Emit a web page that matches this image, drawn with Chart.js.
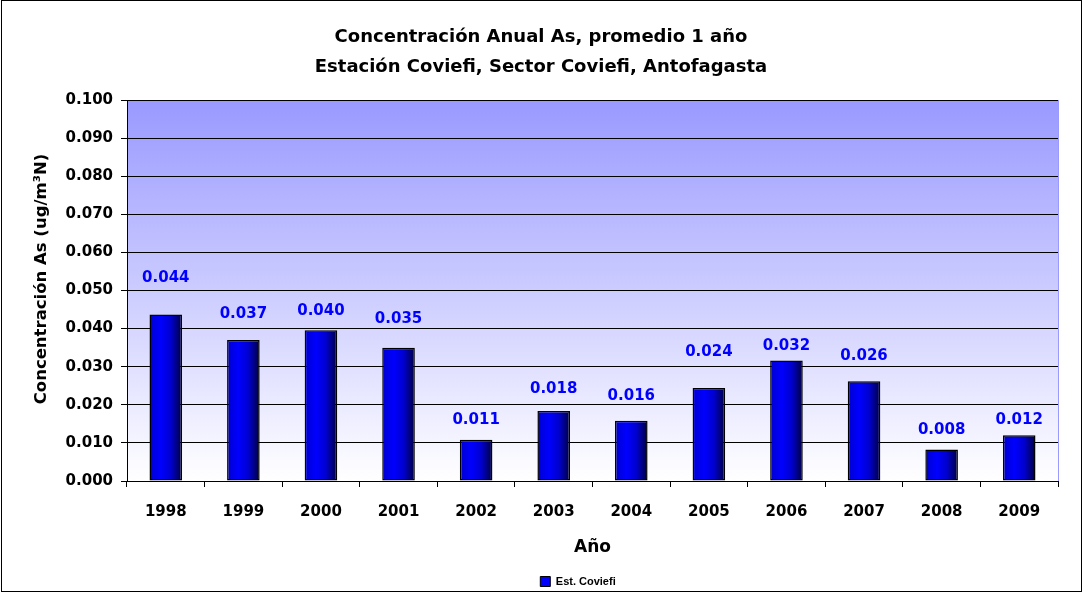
<!DOCTYPE html>
<html>
<head>
<meta charset="utf-8">
<script src="https://cdn.jsdelivr.net/npm/chart.js@4/dist/chart.umd.min.js"></script>
<style>
  body { margin: 0; background: #fff; }
  #wrap { width: 1082px; height: 592px; }
</style>
</head>
<body>
<div id="wrap"><canvas id="asChart" width="1082" height="592"></canvas></div>
<script>
// Data
const years = ["1998", "1999", "2000", "2001", "2002", "2003", "2004", "2005", "2006", "2007", "2008", "2009"];
const concentration = [0.0437, 0.0370, 0.0396, 0.0350, 0.0108, 0.0184, 0.0158, 0.0244, 0.0316, 0.0262, 0.0083, 0.0120];
// where each value label sits (centre, in axis units) - they were hand placed in the original
const labelAnchor = [0.0532, 0.0439, 0.0447, 0.0426, 0.0160, 0.0242, 0.0224, 0.0337, 0.0355, 0.0329, 0.0134, 0.0161];
const yTicks = [0, 0.01, 0.02, 0.03, 0.04, 0.05, 0.06, 0.07, 0.08, 0.09, 0.1];

const SANS = "'Liberation Sans', Arial, sans-serif";
const WIDE = "'DejaVu Sans', Verdana, sans-serif";
const BAR_PCT = 0.42;

// plot area gradient + outer frame
const backgroundPlugin = {
  id: "plotBackground",
  afterLayout(chart) {
    // title is centred on the whole canvas, legend sits a bit right of centre
    if (chart.titleBlock) {
      chart.titleBlock.left = 0;
      chart.titleBlock.right = chart.width;
    }
    if (chart.legend) {
      chart.legend.left += 49;
      chart.legend.right += 49;
      chart.legend.top += 5;
      chart.legend.bottom += 5;
    }
  },
  beforeDraw(chart) {
    const { ctx, chartArea: a } = chart;
    ctx.save();
    ctx.fillStyle = "#fff";
    ctx.fillRect(0, 0, chart.width, chart.height);
    const g = ctx.createLinearGradient(0, a.top, 0, a.bottom);
    g.addColorStop(0, "#9999ff");
    g.addColorStop(1, "#ffffff");
    ctx.fillStyle = g;
    ctx.fillRect(a.left, a.top, a.right - a.left, a.bottom - a.top);
    ctx.restore();
  },
  afterDraw(chart) {
    const { ctx, chartArea: a } = chart;
    ctx.save();
    ctx.strokeStyle = "#9999ff";
    ctx.lineWidth = 1;
    ctx.beginPath();
    ctx.moveTo(a.right + 0.5, a.top);
    ctx.lineTo(a.right + 0.5, a.bottom);
    ctx.stroke();
    ctx.strokeStyle = "#000";
    ctx.strokeRect(1.5, 0.5, chart.width - 2, chart.height - 1);
    ctx.restore();
  },
};

// value labels above bars
const valueLabels = {
  id: "valueLabels",
  afterDatasetsDraw(chart) {
    const { ctx } = chart;
    const meta = chart.getDatasetMeta(0);
    const y = chart.scales.y;
    ctx.save();
    ctx.font = "bold 15px " + WIDE;
    ctx.fillStyle = "#0000ff";
    ctx.textAlign = "center";
    ctx.textBaseline = "middle";
    meta.data.forEach((bar, i) => {
      ctx.fillText(concentration[i].toFixed(3), bar.x, y.getPixelForValue(labelAnchor[i]));
    });
    ctx.restore();
  },
};

function barFill(context) {
  const chart = context.chart;
  const a = chart.chartArea;
  if (!a) return "#0000ff";
  const x = chart.scales.x.getPixelForValue(context.dataIndex);
  const half = ((a.right - a.left) / years.length) * BAR_PCT / 2;
  const g = chart.ctx.createLinearGradient(x - half, 0, x + half, 0);
  g.addColorStop(0, "#0000d0");
  g.addColorStop(0.35, "#0000ff");
  g.addColorStop(0.65, "#0000d0");
  g.addColorStop(1, "#000040");
  return g;
}

const ctx = document.getElementById("asChart").getContext("2d");
const asChart = new Chart(ctx, {
  type: "bar",
  data: {
    labels: years,
    datasets: [
      {
        label: "Est. Coviefi",
        data: concentration,
        backgroundColor: barFill,
        borderColor: "#000000",
        borderWidth: 1.5,
        borderSkipped: false,
        barPercentage: BAR_PCT,
        categoryPercentage: 1,
      },
    ],
  },
  options: {
    responsive: false,
    animation: false,
    layout: { padding: { left: 0, right: 24, top: 0, bottom: 0 } },
    plugins: {
      title: {
        display: true,
        text: ["Concentración Anual As, promedio 1 año", "Estación Coviefi, Sector Coviefi, Antofagasta"],
        color: "#000",
        font: { family: WIDE, size: 18, weight: "bold", lineHeight: 1.667 },
        padding: { top: 22, bottom: 18 },
      },
      legend: {
        display: true,
        position: "bottom",
        labels: {
          color: "#000",
          font: { family: SANS, size: 11, weight: "bold" },
          boxWidth: 10,
          boxHeight: 10,
          padding: 1,
          generateLabels: () => [
            { text: "Est. Coviefi", fillStyle: "#0000ff", strokeStyle: "#000", lineWidth: 1, hidden: false, datasetIndex: 0 },
          ],
        },
      },
      tooltip: { enabled: false },
    },
    scales: {
      x: {
        afterFit: (s) => { s.height = 89; },
        grid: { display: true, drawOnChartArea: false, offset: true, color: "#000", tickLength: 6 },
        border: { color: "#000", width: 1 },
        ticks: { color: "#000", font: { family: WIDE, size: 15, weight: "bold" }, padding: 16 },
        title: { display: true, text: "Año", color: "#000", font: { family: WIDE, size: 17, weight: "bold" }, padding: { top: 0, bottom: 12 } },
      },
      y: {
        min: 0,
        max: 0.1,
        afterFit: (s) => { s.width = 127; },
        afterBuildTicks: (axis) => { axis.ticks = yTicks.map((v) => ({ value: v })); },
        grid: { color: "#000", lineWidth: 1, tickLength: 6 },
        border: { color: "#000", width: 1 },
        ticks: {
          color: "#000",
          font: { family: WIDE, size: 15, weight: "bold" },
          padding: 8,
          callback: (v) => Number(v).toFixed(3),
        },
        title: {
          display: true,
          // leading spaces nudge the rotated title a little upwards, as in the original
          text: "    Concentración As (ug/m³N)",
          color: "#000",
          font: { family: WIDE, size: 16.5, weight: "bold" },
          padding: { top: 32, bottom: 0 },
        },
      },
    },
  },
  plugins: [backgroundPlugin, valueLabels],
});
</script>
</body>
</html>
